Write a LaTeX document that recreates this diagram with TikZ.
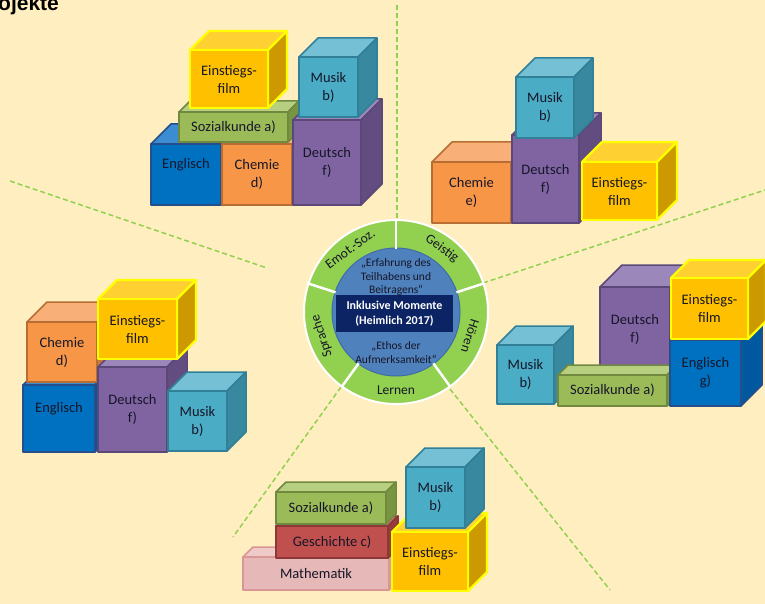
\documentclass[tikz,border=0pt]{standalone}
\usepackage{fontspec}
\setmainfont{Carlito}
\newfontfamily\titlefont{Liberation Sans}
\usetikzlibrary{calc}
% colours
\definecolor{bg}{RGB}{255,238,192}
\definecolor{txt}{RGB}{22,22,40}
\definecolor{ringG}{RGB}{146,208,80}
\definecolor{innerB}{RGB}{79,129,189}
\definecolor{innerL}{RGB}{62,108,168}
\definecolor{navy}{RGB}{12,35,100}
\definecolor{dashG}{RGB}{146,208,80}
% Einstiegsfilm
\definecolor{eiF}{RGB}{255,192,0}\definecolor{eiT}{RGB}{255,208,50}\definecolor{eiS}{RGB}{204,154,0}\definecolor{eiL}{RGB}{255,255,0}
% Musik
\definecolor{muF}{RGB}{75,172,198}\definecolor{muT}{RGB}{118,192,214}\definecolor{muS}{RGB}{56,136,160}\definecolor{muL}{RGB}{49,128,152}
% Deutsch
\definecolor{deF}{RGB}{128,100,162}\definecolor{deT}{RGB}{155,135,186}\definecolor{deS}{RGB}{98,76,128}\definecolor{deL}{RGB}{92,72,120}
% Englisch
\definecolor{enF}{RGB}{0,112,192}\definecolor{enT}{RGB}{60,140,210}\definecolor{enS}{RGB}{0,88,158}\definecolor{enL}{RGB}{38,78,138}
% Chemie
\definecolor{chF}{RGB}{247,150,70}\definecolor{chT}{RGB}{249,176,120}\definecolor{chS}{RGB}{200,120,55}\definecolor{chL}{RGB}{184,110,50}
% Sozialkunde
\definecolor{soF}{RGB}{155,187,89}\definecolor{soT}{RGB}{182,207,128}\definecolor{soS}{RGB}{120,150,65}\definecolor{soL}{RGB}{113,137,63}
% Geschichte
\definecolor{geF}{RGB}{192,80,77}\definecolor{geT}{RGB}{210,115,112}\definecolor{geS}{RGB}{150,60,58}\definecolor{geL}{RGB}{140,56,54}
% Mathematik
\definecolor{maF}{RGB}{230,185,184}\definecolor{maT}{RGB}{238,202,201}\definecolor{maS}{RGB}{214,160,158}\definecolor{maL}{RGB}{217,150,148}
\tikzset{
  eiB/.style={draw=eiL, line width=2.2, line join=round},
  muB/.style={draw=muL, line width=1.5, line join=round},
  deB/.style={draw=deL, line width=1.5, line join=round},
  enB/.style={draw=enL, line width=1.5, line join=round},
  chB/.style={draw=chL, line width=1.5, line join=round},
  soB/.style={draw=soL, line width=1.5, line join=round},
  geB/.style={draw=geL, line width=1.5, line join=round},
  maB/.style={draw=maL, line width=1.5, line join=round},
  blktext/.style={font=\fontsize{14.5}{18}\selectfont, text=txt, align=center, inner sep=0pt},
  ringtext/.style={font=\fontsize{13.5}{15}\selectfont, text=txt, inner sep=0pt},
  quotetext/.style={font=\fontsize{11.5}{13.5}\selectfont, text=txt, align=center, inner sep=0pt},
  sector/.style={draw=dashG, line width=1.5, dash pattern=on 5pt off 3pt},
}
% block: name, x, y, w, h, depth, colour prefix, text, text shift
\newcommand\blk[9]{%
  \path[#7B, fill=#7T] (#2,#3) -- ++(#6,-#6) -- ++(#4,0) -- ++(-#6,#6) -- cycle;
  \path[#7B, fill=#7S] ({#2+#4},#3) -- ++(#6,-#6) -- ++(0,#5) -- ++(-#6,#6) -- cycle;
  \path[#7B, fill=#7F] (#2,#3) rectangle ++(#4,#5);
  \node[blktext] (#1) at ({#2+0.5*#4},{#3+0.5*#5+#9}) {#8};
}
\begin{document}
\begin{tikzpicture}[x=1pt,y=-1pt]
\useasboundingbox (0,0) rectangle (765,604);
\fill[bg] (0,0) rectangle (765,604);
\node[font=\titlefont\bfseries\fontsize{21}{21}\selectfont, anchor=base west, inner sep=0pt] (title) at (-2,10.5) {ojekte};

% sector lines
\coordinate (t1) at (397,5);     \coordinate (t2) at (397,220);
\coordinate (ul1) at (10,181);   \coordinate (ul2) at (267,268);
\coordinate (ur1) at (483,283);  \coordinate (ur2) at (765,190);
\coordinate (lr1) at (450,389);  \coordinate (lr2) at (610,590);
\coordinate (ll1) at (341,387);  \coordinate (ll2) at (233,537);
\draw[sector] (t1) -- (t2);
\draw[sector] (ul1) -- (ul2);
\draw[sector] (ur1) -- (ur2);
\draw[sector] (lr1) -- (lr2);
\draw[sector] (ll1) -- (ll2);

% centre
\coordinate (c) at (396,312);
\fill[ringG, draw=white, line width=2] (c) circle[radius=92pt];
\fill[innerB, draw=innerL, line width=1] (c) circle[radius=64pt];
\foreach \a in {90,18,-54,-126,162}
  \draw[white, line width=2.5] ($(c)+(-\a:63.5)$) -- ($(c)+(-\a:93)$);
\node[ringtext, rotate=-36] (geistig) at ($(c)+(-54:78)$) {Geistig};
\node[ringtext, rotate=36] (emot) at ($(c)+(-126:78)$) {Emot.-Soz.};
\node[ringtext, rotate=-108] (hoeren) at ($(c)+(18:78)$) {Hören};
\node[ringtext] (lernen) at ($(c)+(90:78)$) {Lernen};
\node[ringtext, rotate=108] (sprache) at ($(c)+(-198:78)$) {Sprache};
\fill[navy] (336,295) rectangle (453,332);
\node[font=\fontsize{12}{15}\selectfont\bfseries, text=white, align=center, inner sep=0pt] (im) at (394.5,313.5) {Inklusive Momente\\(Heimlich 2017)};
\node[quotetext] (q1) at (396,277) {„Erfahrung des\\Teilhabens und\\Beitragens“};
\node[quotetext] (q2) at (396,352.5) {„Ethos der\\Aufmerksamkeit“};

% cluster top left
\blk{caen}{151}{144}{70}{61}{20}{en}{Englisch}{-9.5}
\blk{cach}{222}{144}{70}{61}{20}{ch}{Chemie\\d)}{0}
\blk{caso}{179}{112}{109}{30}{11}{so}{Sozialkunde a)}{0}
\blk{caei}{190}{50}{78}{58}{19}{ei}{Einstiegs-\\film}{0}
\blk{cade}{293}{120}{68}{85}{21}{de}{Deutsch\\f)}{0}
\blk{camu}{299}{57}{59}{60}{19}{mu}{Musik\\b)}{0}

% cluster top right
\blk{cbch}{432}{162}{79}{61}{20}{ch}{Chemie\\e)}{0}
\blk{cbde}{512}{135}{67}{88}{22}{de}{Deutsch\\f)}{0}
\blk{cbmu}{516}{77}{58}{61}{19}{mu}{Musik\\b)}{0}
\blk{cbei}{582}{162}{75}{58}{20}{ei}{Einstiegs-\\film}{0}

% cluster right
\blk{ccde}{600}{287}{70}{85}{22}{de}{Deutsch\\f)}{0}
\blk{ccmu}{497}{345}{57}{59}{19}{mu}{Musik\\b)}{0}
\blk{ccso}{558}{375}{109}{31}{10}{so}{Sozialkunde a)}{0}
\blk{ccen}{670}{340}{71}{66}{21}{en}{Englisch\\g)}{0}
\blk{ccei}{671}{278}{77}{61}{18}{ei}{Einstiegs-\\film}{0}

% cluster left
\blk{cden}{23}{385}{72}{67}{20}{en}{Englisch}{-9.5}
\blk{cdch}{27}{322}{70}{60}{20}{ch}{Chemie\\d)}{0}
\blk{cdde}{98}{367}{69}{85}{20}{de}{Deutsch\\f)}{0}
\blk{cdei}{98}{299}{79}{60}{19}{ei}{Einstiegs-\\film}{0}
\blk{cdmu}{168}{391}{59}{60}{19}{mu}{Musik\\b)}{0}

% cluster bottom
\blk{cema}{243}{557}{146}{33}{10}{ma}{Mathematik}{0}
\blk{cege}{276}{526}{112}{32}{10}{ge}{Geschichte c)}{0}
\blk{ceso}{276}{492}{110}{32}{10}{so}{Sozialkunde a)}{0}
\blk{ceei}{392}{532}{76}{59}{19}{ei}{Einstiegs-\\film}{0}
\blk{cemu}{406}{467}{59}{61}{19}{mu}{Musik\\b)}{0}
\end{tikzpicture}
\end{document}
